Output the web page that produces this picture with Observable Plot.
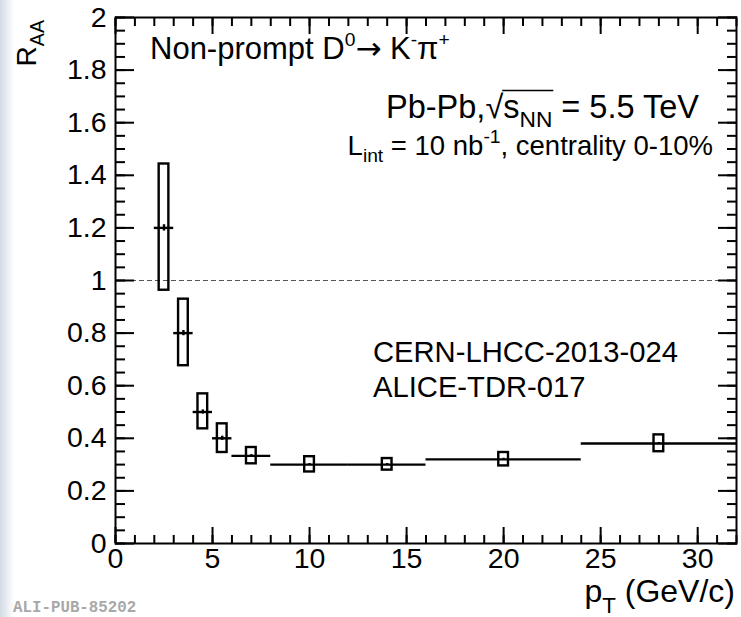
<!DOCTYPE html>
<html><head><meta charset="utf-8">
<script src="https://cdn.jsdelivr.net/npm/d3@7"></script>
<script src="https://cdn.jsdelivr.net/npm/@observablehq/plot@0.6"></script>
<style>
body{margin:0;background:#fff;}
#wrap{position:relative;width:741px;height:617px;overflow:hidden;}
#strip{position:absolute;left:0;top:0;width:14px;height:617px;background:linear-gradient(to right,#d3dbe5,rgba(255,255,255,0));}
#wrap svg{position:absolute;left:0;top:0;}
</style></head><body><div id="wrap"><div id="strip"></div></div>
<script>
// ---- data ----
const ptCenter = [2.5, 3.5, 4.5, 5.5, 7, 10, 14, 20, 28];
const binLow   = [2, 3, 4, 5, 6, 8, 12, 16, 24];
const binHigh  = [3, 4, 5, 6, 8, 12, 16, 24, 32];
const raa      = [1.20, 0.80, 0.50, 0.40, 0.333, 0.30, 0.30, 0.32, 0.38];
const statErr  = [0.012, 0.010, 0.008, 0.008, 0.005, 0.004, 0.004, 0.004, 0.004];
const systLow  = [0.963, 0.676, 0.436, 0.346, 0.303, 0.272, 0.279, 0.295, 0.349];
const systHigh = [1.443, 0.929, 0.569, 0.455, 0.365, 0.330, 0.323, 0.346, 0.413];

const xMajor = [0, 5, 10, 15, 20, 25, 30];
const xTickLabels = ["0", "5", "10", "15", "20", "25", "30"];
const xMinor = d3.range(0, 33);
const yMajor = [0, 0.2, 0.4, 0.6, 0.8, 1, 1.2, 1.4, 1.6, 1.8, 2];
const yTickLabels = ["0", "0.2", "0.4", "0.6", "0.8", "1", "1.2", "1.4", "1.6", "1.8", "2"];
const yMinor = d3.range(0, 41).map(i => i / 20);
const refLine = [1];

const points = ptCenter.map((pt, i) => ({
  pt, lo: binLow[i], hi: binHigh[i], r: raa[i], stat: statErr[i], sLo: systLow[i], sHi: systHigh[i]
}));

const FONT = "'Liberation Sans', Arial, Helvetica, sans-serif";
const boxHalf = 0.25;

const chart = Plot.plot({
  width: 741,
  height: 617,
  marginLeft: 115,
  marginRight: 5,
  marginTop: 17,
  marginBottom: 74,
  style: {fontFamily: FONT, background: "transparent", color: "black"},
  x: {domain: [0, 32]},
  y: {domain: [0, 2]},
  marks: [
    Plot.ruleY(refLine, {stroke: "#555", strokeWidth: 1, strokeDasharray: "5,3"}),
    Plot.rect(points, {x1: d => d.pt - boxHalf, x2: d => d.pt + boxHalf, y1: "sLo", y2: "sHi",
      fill: "none", stroke: "black", strokeWidth: 2.4}),
    Plot.ruleY(points, {y: "r", x1: "lo", x2: "hi", stroke: "black", strokeWidth: 2.4}),
    Plot.ruleX(points, {x: "pt", y1: d => d.r - d.stat, y2: d => d.r + d.stat, stroke: "black", strokeWidth: 2.4}),
    // ticks (inside the frame, ROOT style)
    Plot.axisY({ticks: yMajor, anchor: "left", tickSize: -19, text: null, label: null, strokeWidth: 2}),
    Plot.axisY({ticks: yMinor, anchor: "left", tickSize: -10, text: null, label: null, strokeWidth: 2}),
    Plot.axisY({ticks: yMajor, anchor: "right", tickSize: -19, text: null, label: null, strokeWidth: 2}),
    Plot.axisY({ticks: yMinor, anchor: "right", tickSize: -10, text: null, label: null, strokeWidth: 2}),
    Plot.axisX({ticks: xMajor, anchor: "bottom", tickSize: -16, text: null, label: null, strokeWidth: 2}),
    Plot.axisX({ticks: xMinor, anchor: "bottom", tickSize: -8, text: null, label: null, strokeWidth: 2}),
    Plot.axisX({ticks: xMajor, anchor: "top", tickSize: -16, text: null, label: null, strokeWidth: 2}),
    Plot.axisX({ticks: xMinor, anchor: "top", tickSize: -8, text: null, label: null, strokeWidth: 2}),
    // tick labels
    Plot.axisY({ticks: yMajor, anchor: "left", tickSize: 0, tickPadding: 9, label: null, fontSize: 28.5,
      tickFormat: d => yTickLabels[yMajor.indexOf(d)]}),
    Plot.axisX({ticks: xMajor, anchor: "bottom", tickSize: 0, tickPadding: 4, label: null, fontSize: 28.5,
      tickFormat: d => xTickLabels[xMajor.indexOf(d)]}),
    Plot.frame({stroke: "black", strokeWidth: 2})
  ]
});

document.getElementById("wrap").appendChild(chart);
const svg = d3.select(chart);

function rich(x, y, size, anchor, segs, transform, scriptScale = 0.7) {
  const t = svg.append("text")
    .attr("x", x).attr("y", y)
    .attr("font-size", size)
    .attr("font-family", FONT)
    .attr("text-anchor", anchor)
    .attr("fill", "black");
  if (transform) t.attr("transform", transform);
  let shift = 0;
  const spans = [];
  segs.forEach(s => {
    const target = s.sup ? -0.42 * size : s.sub ? (s.deep ? 0.34 : 0.27) * size : 0;
    const ts = t.append("tspan").attr("dy", target - shift).text(s.t);
    if (s.sup || s.sub) ts.attr("font-size", size * scriptScale);
    if (s.family) ts.attr("font-family", s.family);
    shift = target;
    spans.push(ts);
  });
  return spans;
}

rich(150, 59, 31, "start", [
  {t: "Non-prompt D"}, {t: "0", sup: true}, {t: "\u2192", family: "'DejaVu Sans', sans-serif"}, {t: " K"},
  {t: "-", sup: true}, {t: "\u03c0"}, {t: "+", sup: true}
], null, 0.62);

const pb = rich(699, 118, 32.5, "end", [
  {t: "Pb-Pb,"}, {t: "\u221A"}, {t: "s"}, {t: "NN", sub: true}, {t: " = 5.5 TeV"}
]);

rich(713, 155, 27.5, "end", [
  {t: "L"}, {t: "int", sub: true}, {t: " = 10 nb"}, {t: "-1", sup: true}, {t: ", centrality 0-10%"}
]);

rich(373, 362, 29.2, "start", [{t: "CERN-LHCC-2013-024"}]);
rich(373, 397, 29.2, "start", [{t: "ALICE-TDR-017"}]);

rich(0, 0, 28, "end", [{t: "R"}, {t: "AA", sub: true}], "translate(36,20) rotate(-90)");

rich(735, 602, 32, "end", [{t: "p"}, {t: "T", sub: true, deep: true}, {t: " (GeV/c)"}]);

svg.append("text").attr("x", 13).attr("y", 612)
  .attr("text-anchor", "start")
  .attr("font-family", "'Liberation Mono', 'DejaVu Sans Mono', monospace")
  .attr("font-weight", "bold").attr("font-size", 15.8).attr("fill", "#a8a8a8")
  .text("ALI-PUB-85202");

// overline of the square root
try {
  const rootBox = pb[1].node().getExtentOfChar(0);
  const nnNode = pb[3].node();
  const nnBox = nnNode.getExtentOfChar(nnNode.getNumberOfChars() - 1);
  svg.append("line")
    .attr("x1", rootBox.x + rootBox.width - 1).attr("x2", nnBox.x + nnBox.width + 1)
    .attr("y1", rootBox.y + 1.5).attr("y2", rootBox.y + 1.5)
    .attr("stroke", "black").attr("stroke-width", 1.5);
} catch (e) {}
</script>
</body></html>
